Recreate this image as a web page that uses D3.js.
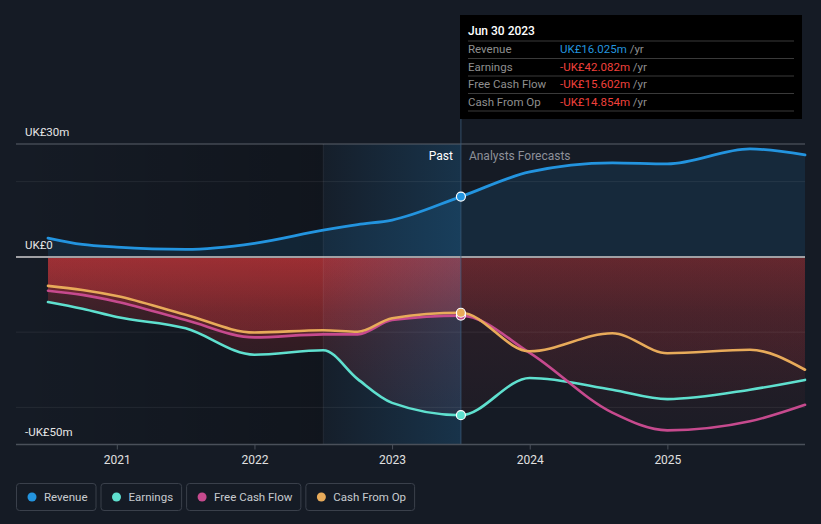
<!DOCTYPE html>
<html><head><meta charset="utf-8">
<script src="https://cdn.jsdelivr.net/npm/d3@7"></script>
<style>
html,body{margin:0;padding:0;background:#151b25;}
svg{display:block;font-family:Roboto,"Open Sans",sans-serif;}
</style></head>
<body><svg id="c" width="821" height="524"></svg>
<script>
// ---- data ----
const pastDates = [2020.5, 2020.75, 2021.0, 2021.5, 2022.0, 2022.5, 2022.75, 2023.0, 2023.5];
const foreDates = [2023.5, 2024.0, 2024.6, 2025.0, 2025.6, 2026.0];
const revenuePast = [5.0, 3.3, 2.6, 2.0, 3.6, 7.1, 8.6, 9.8, 16.025];
const revenueFore = [16.025, 22.6, 25.0, 24.7, 28.7, 27.1];
const earningsPast = [-12.0, -13.8, -16.0, -19.0, -26.0, -24.8, -32.5, -38.8, -42.082];
const earningsFore = [-42.082, -32.2, -35.3, -37.8, -35.3, -32.7];
const fcfPast = [-9.0, -10.1, -11.9, -16.8, -21.4, -20.6, -20.6, -16.8, -15.602];
const fcfFore = [-15.602, -25.5, -41.4, -46.1, -43.7, -39.3];
const cfoPast = [-7.7, -8.8, -10.4, -15.4, -20.1, -19.5, -19.9, -16.3, -14.854];
const cfoFore = [-14.854, -25.1, -20.3, -25.6, -24.7, -30.0];
const yTicks = [30, 0, -50];
const yTickLabels = ["UK£30m", "UK£0", "-UK£50m"];
const gridVals = [20, -20, -40];
const xTicks = [2021, 2022, 2023, 2024, 2025];
const seriesNames = ["Revenue", "Earnings", "Free Cash Flow", "Cash From Op"];
const seriesColors = ["#2394df", "#5fe0cf", "#c64a8e", "#e8ab5a"];
const tipDate = "Jun 30 2023";
const tipValues = ["UK£16.025m", "-UK£42.082m", "-UK£15.602m", "-UK£14.854m"];
const pastStart = 2022.5, nowT = 2023.5;

// ---- scales ----
const svg = d3.select("#c");
const x = d3.scaleLinear().domain([2020.5, 2026.0]).range([48, 805]);
const y = d3.scaleLinear().domain([-50, 30]).range([445, 144]);
const L = 16, R = 805;

const defs = svg.append("defs");
const g1 = defs.append("linearGradient").attr("id","darkL").attr("x1","0").attr("x2","1").attr("y1","0").attr("y2","0");
g1.append("stop").attr("offset","0").attr("stop-color","#000").attr("stop-opacity",0);
g1.append("stop").attr("offset","1").attr("stop-color","#000").attr("stop-opacity",0.22);
const g2 = defs.append("linearGradient").attr("id","hl").attr("x1","0").attr("x2","1").attr("y1","0").attr("y2","0");
g2.append("stop").attr("offset","0").attr("stop-color","#2394df").attr("stop-opacity",0.03);
g2.append("stop").attr("offset","1").attr("stop-color","#2394df").attr("stop-opacity",0.2);
function redGrad(id, a0, a1, a2){
  const g = defs.append("linearGradient").attr("id",id).attr("gradientUnits","userSpaceOnUse")
    .attr("x1",0).attr("x2",0).attr("y1",y(0)).attr("y2",y(-50));
  g.append("stop").attr("offset","0").attr("stop-color","#d8393c").attr("stop-opacity",a0);
  g.append("stop").attr("offset","0.3").attr("stop-color","#d8393c").attr("stop-opacity",a1);
  g.append("stop").attr("offset","1").attr("stop-color","#d8393c").attr("stop-opacity",a2);
}
redGrad("redP", 0.33, 0.2, 0.06);
redGrad("redF", 0.16, 0.1, 0.03);
defs.append("clipPath").attr("id","clipP").append("rect").attr("x",0).attr("y",0).attr("width",x(nowT)).attr("height",524);
defs.append("clipPath").attr("id","clipF").append("rect").attr("x",x(nowT)).attr("y",0).attr("width",821).attr("height",524);

svg.append("rect").attr("x",L).attr("y",y(30)).attr("width",x(pastStart)-L).attr("height",y(-50)-y(30)).attr("fill","url(#darkL)");

const curve = d3.curveMonotoneX;
function pts(d1, v1, d2, v2){
  const a = d1.map((t,i)=>[t, v1[i]]);
  const b = d2.slice(1).map((t,i)=>[t, v2[i+1]]);
  return a.concat(b);
}
const rev = pts(pastDates, revenuePast, foreDates, revenueFore);
const earn = pts(pastDates, earningsPast, foreDates, earningsFore);
const fcf = pts(pastDates, fcfPast, foreDates, fcfFore);
const cfo = pts(pastDates, cfoPast, foreDates, cfoFore);
const allSeries = [rev, earn, fcf, cfo];

const area = d3.area().x(d=>x(d[0])).y0(y(0)).y1(d=>y(d[1])).curve(curve);
const line = d3.line().x(d=>x(d[0])).y(d=>y(d[1])).curve(curve);

svg.append("path").attr("d", area(rev)).attr("fill","#2394df").attr("fill-opacity",0.12);
[earn, fcf, cfo].forEach(s=>{
  svg.append("path").attr("d", area(s)).attr("fill","url(#redP)").attr("clip-path","url(#clipP)");
  svg.append("path").attr("d", area(s)).attr("fill","url(#redF)").attr("clip-path","url(#clipF)");
});
svg.append("rect").attr("x",x(pastStart)).attr("y",y(30)).attr("width",x(nowT)-x(pastStart)).attr("height",y(-50)-y(30)).attr("fill","url(#hl)");

gridVals.forEach(v=>{
  svg.append("line").attr("x1",L).attr("x2",R).attr("y1",y(v)).attr("y2",y(v)).attr("stroke","#ffffff").attr("stroke-opacity",0.07).attr("stroke-width",1);
});
svg.append("line").attr("x1",L).attr("x2",R).attr("y1",y(30)).attr("y2",y(30)).attr("stroke","#5a606a").attr("stroke-width",1);
svg.append("line").attr("x1",L).attr("x2",R).attr("y1",y(0)).attr("y2",y(0)).attr("stroke","#a0a0a4").attr("stroke-width",2);

svg.append("line").attr("x1",x(pastStart)).attr("x2",x(pastStart)).attr("y1",y(30)).attr("y2",y(-50)).attr("stroke","#ffffff").attr("stroke-opacity",0.07);
svg.append("line").attr("x1",x(nowT)).attr("x2",x(nowT)).attr("y1",119).attr("y2",y(-50)).attr("stroke","#3a5a78").attr("stroke-opacity",0.8);

const xAxis = d3.axisBottom(x).tickValues(xTicks).tickFormat(d3.format("d")).tickSize(5).tickPadding(6);
const xg = svg.append("g").attr("transform",`translate(0,${y(-50)-0.5})`).call(xAxis);
xg.select(".domain").remove();
xg.selectAll(".tick line").attr("stroke","#4a505a");
xg.selectAll(".tick text").attr("fill","#e0e0e0").attr("font-size",12).attr("font-family","Roboto, sans-serif");
svg.append("line").attr("x1",L).attr("x2",R).attr("y1",y(-50)-0.5).attr("y2",y(-50)-0.5).attr("stroke","#4a505a").attr("stroke-width",1.5);

yTicks.forEach((v,i)=>{
  svg.append("text").attr("x",25).attr("y",y(v)-(v===-50?9:8)).attr("fill","#e6e6e6").attr("font-size",11.5).text(yTickLabels[i]);
});

[earn, fcf, cfo, rev].forEach(s=>{
  const idx = allSeries.indexOf(s);
  svg.append("path").attr("d", line(s)).attr("fill","none").attr("stroke",seriesColors[idx]).attr("stroke-width",idx===0?2.8:2.6).attr("stroke-linecap","round");
});

[1,2,3,0].forEach(i=>{
  svg.append("circle").attr("cx",x(nowT)).attr("cy",y(allSeries[i].find(d=>d[0]===nowT)[1])).attr("r",4.5)
    .attr("fill",seriesColors[i]).attr("stroke","#ffffff").attr("stroke-width",1.2);
});

svg.append("text").attr("x",x(nowT)-8).attr("y",160).attr("text-anchor","end").attr("fill","#ffffff").attr("font-size",12).text("Past");
svg.append("text").attr("x",x(nowT)+8).attr("y",160).attr("fill","#8d9099").attr("font-size",12).text("Analysts Forecasts");

const tip = svg.append("g");
tip.append("rect").attr("x",460).attr("y",15).attr("width",342).attr("height",104).attr("fill","#000000");
tip.append("text").attr("x",468).attr("y",35).attr("fill","#ffffff").attr("font-size",12).attr("font-weight",500).text(tipDate);
const sepY = [41, 58.5, 76, 93.5, 111];
sepY.forEach(s=>tip.append("line").attr("x1",468).attr("x2",794).attr("y1",s).attr("y2",s).attr("stroke","#3a3a3a"));
seriesNames.forEach((n,i)=>{
  const yy = 53 + i*17.5;
  tip.append("text").attr("x",468).attr("y",yy).attr("fill","#8f8f8f").attr("font-size",11.5).text(n);
  const t = tip.append("text").attr("x",560).attr("y",yy).attr("font-size",11.5);
  t.append("tspan").attr("fill", i===0?"#2394df":"#f0403c").text(tipValues[i]);
  t.append("tspan").attr("fill","#8f8f8f").text(" /yr");
});

let lx = 16;
const lg = svg.append("g");
seriesNames.forEach((n,i)=>{
  const g = lg.append("g");
  const txt = g.append("text").attr("x",lx+28).attr("y",501).attr("fill","#c8cbd0").attr("font-size",11.5).text(n);
  const w = txt.node().getComputedTextLength();
  const bw = w + 36;
  g.insert("rect","text").attr("x",lx+0.5).attr("y",483.5).attr("width",bw).attr("height",27).attr("rx",3)
    .attr("fill","none").attr("stroke","#3a404b");
  g.append("circle").attr("cx",lx+16).attr("cy",497).attr("r",4.5).attr("fill",seriesColors[i]);
  lx += bw + 5;
});
</script></body></html>
